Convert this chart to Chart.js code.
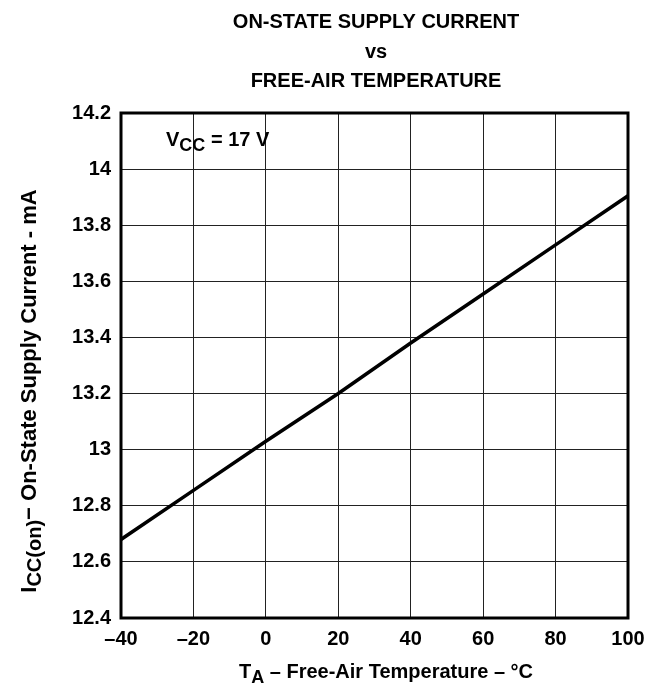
<!DOCTYPE html>
<html>
<head>
<meta charset="utf-8">
<script src="https://cdn.jsdelivr.net/npm/chart.js@4/dist/chart.umd.min.js"></script>
<style>
  body { margin: 0; background: #fff; }
</style>
</head>
<body>
<canvas id="canvas" width="665" height="686"></canvas>
<script>
// dane
let tempC = [-40, -20, 0, 20, 40, 60, 80, 100];
let iccMa = [12.68, 12.855, 13.03, 13.2, 13.38, 13.555, 13.73, 13.905];

let titleLines = ['ON-STATE SUPPLY CURRENT', 'vs', 'FREE-AIR TEMPERATURE'];
let xTickLabels = ['\u201340', '\u201320', '0', '20', '40', '60', '80', '100'];
let yTickLabels = ['12.4', '12.6', '12.8', '13', '13.2', '13.4', '13.6', '13.8', '14', '14.2'];

let fontFam = '"Liberation Sans", Arial, Helvetica, sans-serif';

// kawalki tekstu z indeksami dolnymi
function drawParts(ctx, parts, x, y, align) {
    let total = 0;
    parts.forEach(function(p) {
        ctx.font = 'bold ' + p.size + 'px ' + fontFam;
        p.w = ctx.measureText(p.text).width;
        total += p.w;
    });
    let cx = align === 'center' ? x - total / 2 : x;
    parts.forEach(function(p) {
        ctx.font = 'bold ' + p.size + 'px ' + fontFam;
        ctx.fillText(p.text, cx, y + (p.dy || 0));
        cx += p.w;
    });
}

let textPlugin = {
    id: 'texty',
    afterDraw: function(chart) {
        let ctx = chart.ctx;
        let area = chart.chartArea;
        ctx.save();

        // ramka
        ctx.strokeStyle = '#000';
        ctx.lineWidth = 3;
        ctx.strokeRect(area.left, area.top, area.right - area.left, area.bottom - area.top);

        ctx.fillStyle = '#000';
        ctx.textBaseline = 'alphabetic';
        ctx.textAlign = 'left';

        // tytul
        ctx.font = 'bold 20px ' + fontFam;
        ctx.textAlign = 'center';
        titleLines.forEach(function(line, i) {
            ctx.fillText(line, 376, 28 + i * 29.5);
        });
        ctx.textAlign = 'left';

        // V_CC = 17 V
        drawParts(ctx, [
            {text: 'V', size: 20},
            {text: 'CC', size: 18, dy: 5},
            {text: ' = 17 V', size: 20}
        ], 166, 146, 'left');

        // tytul osi X
        drawParts(ctx, [
            {text: 'T', size: 20},
            {text: 'A', size: 18, dy: 5},
            {text: ' \u2013 Free-Air Temperature \u2013 \u00b0C', size: 20}
        ], 386, 678, 'center');

        // tytul osi Y
        ctx.translate(36, 391);
        ctx.rotate(-Math.PI / 2);
        drawParts(ctx, [
            {text: 'I', size: 22},
            {text: 'CC(on)', size: 20, dy: 5},
            {text: '\u2212 On-State Supply Current - mA', size: 22}
        ], 0, 0, 'center');

        ctx.restore();
    }
};

let ctx = document.getElementById('canvas').getContext('2d');
let config = {
    type: 'line',
    data: {
        datasets: [{
            data: tempC.map(function(t, i) { return {x: t, y: iccMa[i]}; }),
            borderColor: '#000',
            borderWidth: 3.5,
            pointRadius: 0,
            tension: 0,
            fill: false
        }]
    },
    options: {
        responsive: false,
        animation: false,
        devicePixelRatio: 1,
        layout: { padding: { top: 113, left: 0, right: 37, bottom: 0 } },
        plugins: {
            legend: { display: false },
            title: { display: false },
            tooltip: { enabled: false }
        },
        scales: {
            x: {
                type: 'linear',
                min: -40,
                max: 100,
                afterFit: function(scale) { scale.height = 68; },
                afterBuildTicks: function(scale) {
                    scale.ticks = tempC.map(function(v) { return {value: v}; });
                },
                ticks: {
                    color: '#000',
                    padding: 9,
                    maxRotation: 0,
                    font: { family: fontFam, size: 20, weight: 'bold' },
                    callback: function(v, i) { return xTickLabels[i]; }
                },
                grid: { color: '#222', lineWidth: 1, drawTicks: false },
                border: { display: false }
            },
            y: {
                type: 'linear',
                min: 12.4,
                max: 14.2,
                afterFit: function(scale) { scale.width = 121; },
                afterBuildTicks: function(scale) {
                    scale.ticks = yTickLabels.map(function(s) { return {value: parseFloat(s)}; });
                },
                ticks: {
                    color: '#000',
                    padding: 10,
                    font: { family: fontFam, size: 20, weight: 'bold' },
                    callback: function(v, i) { return yTickLabels[i]; }
                },
                grid: { color: '#222', lineWidth: 1, drawTicks: false },
                border: { display: false }
            }
        }
    },
    plugins: [textPlugin]
};

let chart = new Chart(ctx, config);
</script>
</body>
</html>
